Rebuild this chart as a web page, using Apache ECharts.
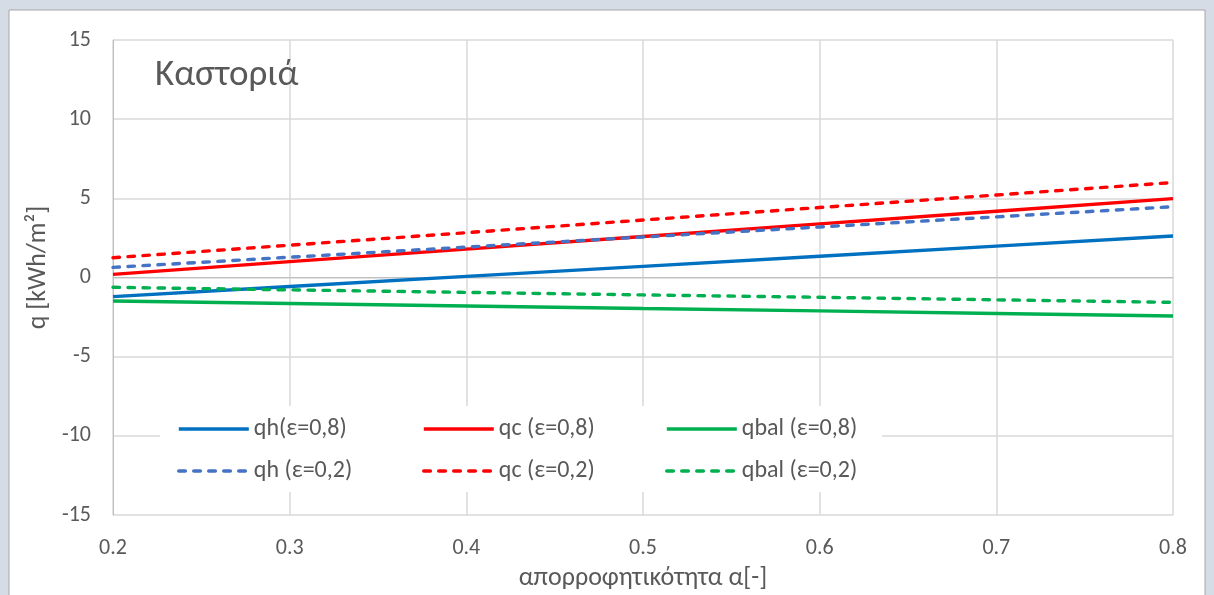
<!DOCTYPE html>
<html><head><meta charset="utf-8">
<script src="https://cdn.jsdelivr.net/npm/echarts@6/dist/echarts.min.js"></script>
<style>html,body{margin:0;padding:0;background:#d6dce5;}#c{width:1214px;height:595px;}</style>
</head><body><div id="c"></div>
<script>
const xVals = [0.2, 0.3, 0.4, 0.5, 0.6, 0.7, 0.8];
const qh08   = [-1.21, -0.57, 0.07, 0.70, 1.34, 1.98, 2.62];
const qc08   = [0.20, 1.00, 1.79, 2.59, 3.39, 4.18, 4.98];
const qbal08 = [-1.48, -1.64, -1.80, -1.96, -2.11, -2.27, -2.43];
const qh02   = [0.64, 1.28, 1.92, 2.56, 3.19, 3.83, 4.47];
const qc02   = [1.25, 2.04, 2.83, 3.63, 4.42, 5.21, 6.00];
const qbal02 = [-0.62, -0.78, -0.94, -1.10, -1.25, -1.41, -1.57];
const seriesNames = ['qh(ε=0,8)', 'qc (ε=0,8)', 'qbal (ε=0,8)', 'qh (ε=0,2)', 'qc (ε=0,2)', 'qbal (ε=0,2)'];
const titleText = 'Καστοριά';
const xName = 'απορροφητικότητα α[-]';
const yName = 'q [kWh/m²]';

const FONT = "Carlito, 'Noto Sans', sans-serif";
const TXT = '#595959';
const colors = ['#0070c0', '#ff0000', '#00b050', '#4472c4', '#ff0000', '#00b050'];
const allData = [qh08, qc08, qbal08, qh02, qc02, qbal02];
const DASH = [6.5, 8.5];

const series = allData.map((d, i) => ({
  name: seriesNames[i],
  type: 'line',
  data: d.map((v, j) => [xVals[j], v]),
  symbol: 'none',
  z: 5,
  lineStyle: { color: colors[i], width: 3.4, type: i < 3 ? 'solid' : DASH, cap: i < 3 ? 'butt' : 'round' },
  itemStyle: { color: colors[i] }
}));

const legendPos = [
  [177, 417], [422, 417], [665, 417],
  [177, 459], [422, 459], [665, 459]
];
const legends = seriesNames.map((n, i) => ({
  data: [n], left: legendPos[i][0], top: legendPos[i][1], padding: 0,
  itemWidth: 70, itemHeight: 14, itemGap: 0,
  itemStyle: { opacity: 0 },
  lineStyle: { width: 3.6, color: colors[i], type: i < 3 ? 'solid' : DASH, cap: i < 3 ? 'butt' : 'round' },
  textStyle: { color: TXT, fontSize: 24, fontFamily: FONT },
  z: 6
}));

const chart = echarts.init(document.getElementById('c'));
chart.setOption({
  animation: false,
  backgroundColor: '#d6dce5',
  graphic: [
    { type: 'rect', shape: { x: 9, y: 10, width: 1196, height: 600 }, style: { fill: '#fff', stroke: '#a6a6a6', lineWidth: 1 }, z: -10, silent: true },
    { type: 'rect', shape: { x: 160, y: 406, width: 722, height: 86 }, style: { fill: '#fff' }, z: 3, silent: true },
    { type: 'text', left: 155, top: 57, style: { text: titleText, fontSize: 37, fontFamily: FONT, fill: TXT }, z: 6 }
  ],
  legend: legends,
  grid: { left: 113, right: 41, top: 40, bottom: 80, outerBoundsMode: 'none', containLabel: false },
  xAxis: {
    type: 'value', min: 0.2, max: 0.8, interval: 0.1,
    name: xName, nameLocation: 'middle', nameGap: 50,
    nameTextStyle: { color: TXT, fontSize: 26, fontFamily: FONT },
    axisLine: { show: true, lineStyle: { color: '#bfbfbf', width: 1 } },
    axisTick: { show: false },
    axisLabel: { color: TXT, fontSize: 22, fontFamily: FONT, margin: 22, formatter: v => v.toFixed(1) },
    splitLine: { show: true, lineStyle: { color: '#d9d9d9', width: 1.5 } }
  },
  yAxis: {
    type: 'value', min: -15, max: 15, interval: 5,
    name: yName, nameLocation: 'middle', nameGap: 56, nameRotate: 90,
    nameTextStyle: { color: TXT, fontSize: 26, fontFamily: FONT, padding: [0, 0, 0, 20] },
    axisLine: { show: true, lineStyle: { color: '#bfbfbf', width: 1 } },
    axisTick: { show: false },
    axisLabel: { color: TXT, fontSize: 22, fontFamily: FONT, margin: 22 },
    splitLine: { show: true, lineStyle: { color: '#d9d9d9', width: 1.5 } }
  },
  series: series
});
</script></body></html>
